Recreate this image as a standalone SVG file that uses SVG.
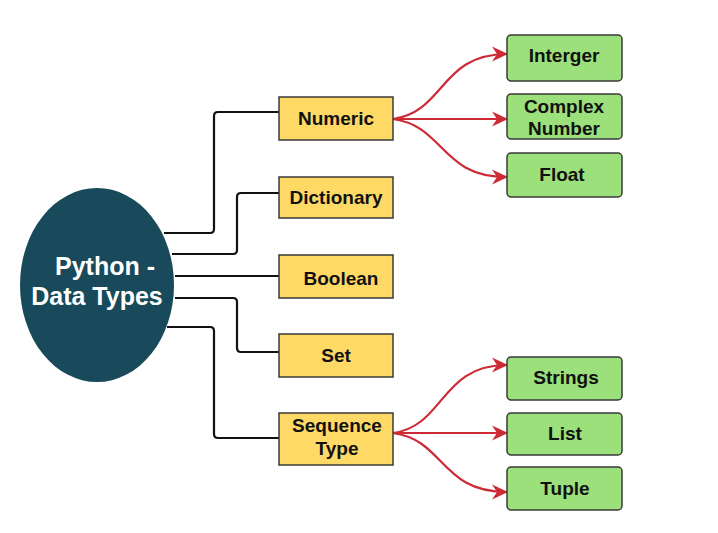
<svg xmlns="http://www.w3.org/2000/svg" width="718" height="533" viewBox="0 0 718 533">
<style>
.y{fill:#FFD966;stroke:#3a3a3a;stroke-width:1.5}
.g{fill:#9BE07B;stroke:#3a3a3a;stroke-width:1.5}
.t{font-family:"Liberation Sans",Arial,sans-serif;font-weight:bold;font-size:19px;fill:#111;text-anchor:middle}
.w{font-family:"Liberation Sans",Arial,sans-serif;font-weight:bold;font-size:25px;fill:#fff;text-anchor:middle}
.k{fill:none;stroke:#111;stroke-width:2.2}
.r{fill:none;stroke:#CC2B36;stroke-width:2.2;marker-end:url(#ah)}
</style>
<defs>
<marker id="ah" viewBox="0 0 16 16" refX="15" refY="8" markerWidth="16" markerHeight="16" markerUnits="userSpaceOnUse" orient="auto">
<path d="M0,0.5 L16,8 L0,15.5 L5,8 Z" fill="#CC2B36"/>
</marker>
</defs>
<rect width="718" height="533" fill="#fff"/>
<g id="connectors">
<path class="k" d="M164,233 H210 Q214,233 214,229 V116 Q214,112 218,112 H279"/>
<path class="k" d="M172,254 H233 Q237,254 237,250 V197 Q237,193 241,193 H279"/>
<path class="k" d="M175,276 H279"/>
<path class="k" d="M175,298 H233 Q237,298 237,302 V348 Q237,352 241,352 H279"/>
<path class="k" d="M167,327 H210 Q214,327 214,331 V434 Q214,438 218,438 H279"/>
<path class="r" d="M393,119 C445,112 440,54 507,54"/>
<path class="r" d="M393,119 H507"/>
<path class="r" d="M393,119 C445,126 440,177 507,177"/>
<path class="r" d="M393,433 C445,426 440,365 507,365"/>
<path class="r" d="M393,433 H507"/>
<path class="r" d="M393,433 C445,440 440,492 507,492"/>
</g>
<g id="python">
<ellipse cx="97" cy="285" rx="77" ry="97" fill="#184A5B"/>
<text class="w" x="105" y="275">Python -</text>
<text class="w" x="97" y="305">Data Types</text>
</g>
<g id="numeric"><rect class="y" x="279" y="97" width="114" height="43"/><text class="t" x="336" y="125">Numeric</text></g>
<g id="dictionary"><rect class="y" x="279" y="177" width="114" height="41"/><text class="t" x="336" y="204">Dictionary</text></g>
<g id="boolean"><rect class="y" x="279" y="255" width="114" height="43"/><text class="t" x="341" y="285">Boolean</text></g>
<g id="set"><rect class="y" x="279" y="334" width="114" height="43"/><text class="t" x="336" y="362">Set</text></g>
<g id="sequence"><rect class="y" x="279" y="413" width="114" height="52"/><text class="t" x="337" y="432">Sequence</text><text class="t" x="337" y="455">Type</text></g>
<g id="interger"><rect class="g" x="507" y="35" width="115" height="46" rx="4"/><text class="t" x="564" y="62">Interger</text></g>
<g id="complex"><rect class="g" x="507" y="94" width="115" height="45" rx="4"/><text class="t" x="564" y="113">Complex</text><text class="t" x="564" y="135">Number</text></g>
<g id="float"><rect class="g" x="507" y="153" width="115" height="44" rx="4"/><text class="t" x="562" y="181">Float</text></g>
<g id="strings"><rect class="g" x="507" y="357" width="115" height="43" rx="4"/><text class="t" x="566" y="384">Strings</text></g>
<g id="list"><rect class="g" x="507" y="413" width="115" height="42" rx="4"/><text class="t" x="565" y="440">List</text></g>
<g id="tuple"><rect class="g" x="507" y="467" width="115" height="43" rx="4"/><text class="t" x="565" y="495">Tuple</text></g>
</svg>
